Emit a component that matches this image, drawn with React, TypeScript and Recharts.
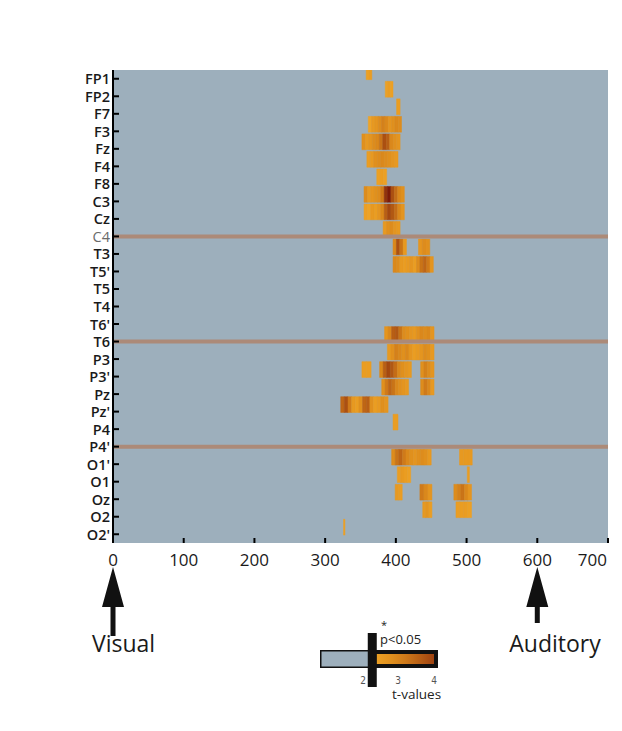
import React from 'react';
import {
  ScatterChart,
  Scatter,
  XAxis,
  YAxis,
  CartesianGrid,
  ReferenceArea,
  ReferenceLine,
  ReferenceDot,
} from 'recharts';

// ---------- data ----------
const electrodes = [
  'FP1', 'FP2', 'F7', 'F3', 'Fz', 'F4', 'F8', 'C3', 'Cz', 'C4',
  'T3', "T5'", 'T5', 'T4', "T6'", 'T6', 'P3', "P3'", 'Pz', "Pz'",
  'P4', "P4'", "O1'", 'O1', 'Oz', 'O2', "O2'",
];
const timeTicks = [0, 100, 200, 300, 400, 500, 600, 700];
const separatorRows = ['C4', 'T6', "P4'"];
const stimulusOnsets = [
  { label: 'Visual', ms: 0 },
  { label: 'Auditory', ms: 600 },
];
const colorbarTicks = [2, 3, 4];

// [electrode, from ms, to ms, t-values in equal bins]
type Cluster = [string, number, number, number[]];

const frontalClusters: Cluster[] = [
  ['FP1', 358, 366, [2.4, 2.5]],
  ['FP2', 385, 396, [2.4, 2.5, 2.4]],
  ['F7', 401, 406, [2.5]],
  ['F3', 361, 408, [2.3, 2.6, 2.7, 2.9, 3.1, 3.0, 2.7, 2.8, 3.0, 2.9]],
  ['Fz', 352, 406, [2.8, 2.6, 2.7, 2.9, 3.0, 3.3, 3.8, 3.6, 3.0, 2.8, 2.7]],
  ['F4', 359, 403, [2.5, 2.6, 2.8, 2.9, 3.0, 2.9, 2.8, 2.7, 2.6]],
  ['F8', 373, 387, [2.4, 2.5, 2.4]],
  ['C3', 355, 412, [2.9, 2.6, 2.7, 2.8, 2.9, 3.2, 4.2, 4.5, 3.8, 3.4, 3.0, 2.8]],
  ['Cz', 355, 412, [2.4, 2.3, 2.6, 2.5, 2.7, 3.0, 3.6, 3.9, 3.7, 3.4, 3.0, 2.7]],
  ['C4', 382, 406, [2.6, 2.8, 2.9, 2.7, 2.6]],
];

const temporalClusters: Cluster[] = [
  ['T3', 396, 415, [3.0, 3.8, 3.3, 2.6]],
  ['T3', 432, 448, [2.7, 2.9, 2.8]],
  ["T5'", 396, 453, [3.0, 2.9, 2.6, 2.5, 2.6, 2.7, 2.5, 2.9, 3.3, 3.5, 3.2, 2.7]],
  ['T6', 384, 454, [2.7, 3.0, 3.6, 3.7, 3.3, 2.9, 2.8, 2.7, 2.6, 2.8, 3.0, 2.9, 3.0, 2.7]],
];

const parietalClusters: Cluster[] = [
  ['P3', 388, 454, [2.6, 2.8, 3.1, 3.0, 2.8, 3.0, 2.7, 2.5, 2.6, 2.7, 2.9, 2.8, 2.6]],
  ["P3'", 352, 365, [2.5, 2.5]],
  ["P3'", 377, 422, [3.0, 3.6, 3.9, 3.7, 3.4, 3.0, 2.8, 2.7, 2.6]],
  ["P3'", 435, 454, [2.8, 3.1, 2.9, 2.7]],
  ['Pz', 380, 418, [2.8, 3.2, 3.5, 3.3, 3.0, 2.8, 2.7, 2.6]],
  ['Pz', 435, 454, [2.9, 3.2, 3.0, 2.6]],
  ["Pz'", 322, 389, [3.5, 3.8, 3.2, 2.6, 2.5, 2.8, 3.5, 3.6, 2.8, 2.5, 2.6, 2.8, 2.7]],
  ['P4', 396, 403, [2.5]],
];

const occipitalClusters: Cluster[] = [
  ["O1'", 394, 450, [2.9, 3.3, 3.5, 3.2, 3.0, 2.8, 2.7, 2.8, 2.9, 2.8, 2.6]],
  ["O1'", 490, 508, [2.6, 2.6, 2.6]],
  ['O1', 402, 421, [2.5, 2.6, 2.5, 2.4]],
  ['O1', 501, 504, [2.5]],
  ['Oz', 399, 409, [2.6, 2.5]],
  ['Oz', 434, 451, [3.2, 3.0, 2.7]],
  ['Oz', 482, 507, [2.9, 3.1, 3.3, 3.0, 2.7]],
  ['O2', 438, 451, [2.6, 2.7, 2.5]],
  ['O2', 485, 507, [2.5, 2.5, 2.5, 2.4]],
  ["O2'", 326, 328, [2.4]],
];

// ---------- styling ----------
const PLOT_BG = '#9DAFBC';
const SEP_COLOR = '#AC8A78';
const CELL_TOP = 0.85; // row band extent (in rows) above the row index
const CELL_BOTTOM = 0.05;

const colorStops: [number, [number, number, number]][] = [
  [2.0, [243, 172, 44]],
  [2.5, [234, 157, 34]],
  [3.0, [218, 136, 28]],
  [3.5, [190, 102, 22]],
  [4.0, [158, 66, 16]],
  [4.5, [125, 28, 8]],
];

function tColor(t: number): string {
  const lo = colorStops[0][0];
  const hi = colorStops[colorStops.length - 1][0];
  const v = Math.max(lo, Math.min(hi, t));
  for (let i = 0; i < colorStops.length - 1; i++) {
    const [a, ca] = colorStops[i];
    const [b, cb] = colorStops[i + 1];
    if (v >= a && v <= b) {
      const f = (v - a) / (b - a);
      const c = ca.map((x, k) => Math.round(x + (cb[k] - x) * f));
      return `rgb(${c[0]},${c[1]},${c[2]})`;
    }
  }
  const c = colorStops[colorStops.length - 1][1];
  return `rgb(${c[0]},${c[1]},${c[2]})`;
}

const allClusters = [
  ...frontalClusters,
  ...temporalClusters,
  ...parietalClusters,
  ...occipitalClusters,
];

const cells = allClusters.flatMap(([el, from, to, ts]) => {
  const row = electrodes.indexOf(el);
  const w = (to - from) / ts.length;
  return ts.map((t, k) => ({ row, x1: from + k * w, x2: from + (k + 1) * w, t }));
});

const cellCenters = cells.map((c) => ({ x: (c.x1 + c.x2) / 2, y: c.row }));
const rowTicks = electrodes.map((_, i) => i);
const lastTime = timeTicks[timeTicks.length - 1];

const YTick = (props: any) => {
  const { x, y, payload } = props;
  const name = electrodes[payload.value];
  const faint = name === 'C4';
  return (
    <text
      x={x}
      y={y}
      textAnchor="end"
      dominantBaseline="central"
      fontSize={14.5}
      fontWeight={faint ? 400 : 600}
      fill={faint ? '#6a6a6a' : '#1a1a1a'}
    >
      {name}
    </text>
  );
};

const XTick = (props: any) => {
  const { x, y, payload } = props;
  const isLast = payload.value === lastTime;
  return (
    <text
      x={isLast ? x - 1 : x}
      y={y}
      dy="0.71em"
      textAnchor={isLast ? 'end' : 'middle'}
      fontSize={17}
      fill="#1a1a1a"
    >
      {payload.value}
    </text>
  );
};

const makeArrow = (label: string, shaftLen: number, textDx: number) => (props: any) => {
  const { cx, cy } = props;
  const tip = cy + 24;
  const base = cy + 64;
  const end = cy + shaftLen;
  return (
    <g>
      <polygon
        points={`${cx},${tip} ${cx - 11},${base} ${cx - 2.5},${base} ${cx - 2.5},${end} ${cx + 2.5},${end} ${cx + 2.5},${base} ${cx + 11},${base}`}
        fill="#111"
      />
      <text x={cx + textDx} y={cy + 109} fontSize={23} fill="#1a1a1a">
        {label}
      </text>
    </g>
  );
};

const arrowShapes: Record<string, any> = {
  Visual: makeArrow('Visual', 93, -21),
  Auditory: makeArrow('Auditory', 80, -28),
};

// colorbar geometry (legend, in wrapper coords)
const CB = { x0: 354, perT: 36, yTop: 642, yBot: 660 };
const cbX = (t: number) => CB.x0 + (t - 2) * CB.perT;

const Colorbar = () => {
  const gStart = 2.4;
  const gEnd = 4.0;
  const gradStops = [2.4, 2.8, 3.2, 3.6, 4.0];
  return (
    <svg
      width={614}
      height={715}
      style={{ position: 'absolute', left: 0, top: 0, pointerEvents: 'none' }}
    >
      <defs>
        <linearGradient id="tgrad" x1="0" x2="1" y1="0" y2="0">
          {gradStops.map((t) => (
            <stop
              key={t}
              offset={`${((t - gStart) / (gEnd - gStart)) * 100}%`}
              stopColor={tColor(t)}
            />
          ))}
        </linearGradient>
      </defs>
      <rect x={312} y={CB.yTop} width={cbX(4) + 4 - 312} height={CB.yBot - CB.yTop} fill="#111" />
      <rect x={313.5} y={CB.yTop + 1.5} width={cbX(2.25) - 313.5} height={CB.yBot - CB.yTop - 3} fill={PLOT_BG} />
      <rect
        x={cbX(2.4)}
        y={CB.yTop + 4}
        width={cbX(gEnd) - cbX(2.4)}
        height={CB.yBot - CB.yTop - 8}
        fill="url(#tgrad)"
      />
      <rect x={cbX(2.16)} y={625} width={9} height={54} fill="#111" />
      {colorbarTicks.map((t) => (
        <text
          key={t}
          x={cbX(t) + (t === 2 ? 1 : 0)}
          y={672}
          textAnchor="middle"
          dominantBaseline="central"
          fontSize={10}
          fill="#555"
          fontFamily="'Liberation Sans Narrow', 'DejaVu Sans Condensed', sans-serif"
        >
          {t}
        </text>
      ))}
      <text x={384} y={686} dominantBaseline="central" fontSize={13.5} fill="#222">
        t-values
      </text>
      <text x={372} y={631} dominantBaseline="central" fontSize={13} fill="#222">
        p&lt;0.05
      </text>
      <text x={376} y={616} textAnchor="middle" dominantBaseline="central" fontSize={11} fill="#222">
        *
      </text>
    </svg>
  );
};

export default function App() {
  return (
    <div
      style={{
        position: 'relative',
        width: 614,
        height: 715,
        fontFamily: "'Open Sans', 'Noto Sans', sans-serif",
        background: '#fff',
      }}
    >
      <ScatterChart
        width={614}
        height={700}
        margin={{ top: 62, right: 14, left: 0, bottom: 135 }}
      >
        <CartesianGrid horizontal={false} vertical={false} fill={PLOT_BG} fillOpacity={1} stroke="none" />
        <XAxis
          type="number"
          dataKey="x"
          domain={[0, 700]}
          ticks={timeTicks}
          interval={0}
          height={30}
          axisLine={false}
          tickSize={-5}
          tickMargin={16}
          tickLine={{ stroke: '#000', strokeWidth: 2 }}
          tick={<XTick />}
        />
        <XAxis
          xAxisId="top"
          orientation="top"
          type="number"
          domain={[0, 700]}
          ticks={timeTicks}
          interval={0}
          height={0}
          axisLine={false}
          tickSize={-5}
          tickLine={{ stroke: '#000', strokeWidth: 2 }}
          tick={false}
        />
        <YAxis
          type="number"
          dataKey="y"
          domain={[-0.5, 26.5]}
          reversed
          ticks={rowTicks}
          interval={0}
          width={105}
          axisLine={{ stroke: '#000', strokeWidth: 2 }}
          tickSize={-6}
          tickMargin={9}
          tickLine={{ stroke: '#000', strokeWidth: 2 }}
          tick={<YTick />}
        />
        {cells.map((c, i) => (
          <ReferenceArea
            key={`c${i}`}
            x1={c.x1}
            x2={c.x2}
            y1={c.row - CELL_TOP}
            y2={c.row + CELL_BOTTOM}
            fill={tColor(c.t)}
            fillOpacity={1}
            stroke={tColor(c.t)}
            strokeWidth={0.5}
            ifOverflow="hidden"
          />
        ))}
        {separatorRows.map((name) => (
          <ReferenceLine
            key={name}
            y={electrodes.indexOf(name)}
            stroke={SEP_COLOR}
            strokeWidth={4}
          />
        ))}
        <Scatter
          data={cellCenters}
          isAnimationActive={false}
          shape={() => <g />}
        />
        {stimulusOnsets.map((s) => (
          <ReferenceDot
            key={s.label}
            x={s.ms}
            y={26.5}
            ifOverflow="visible"
            shape={arrowShapes[s.label]}
          />
        ))}
      </ScatterChart>
      <Colorbar />
    </div>
  );
}
